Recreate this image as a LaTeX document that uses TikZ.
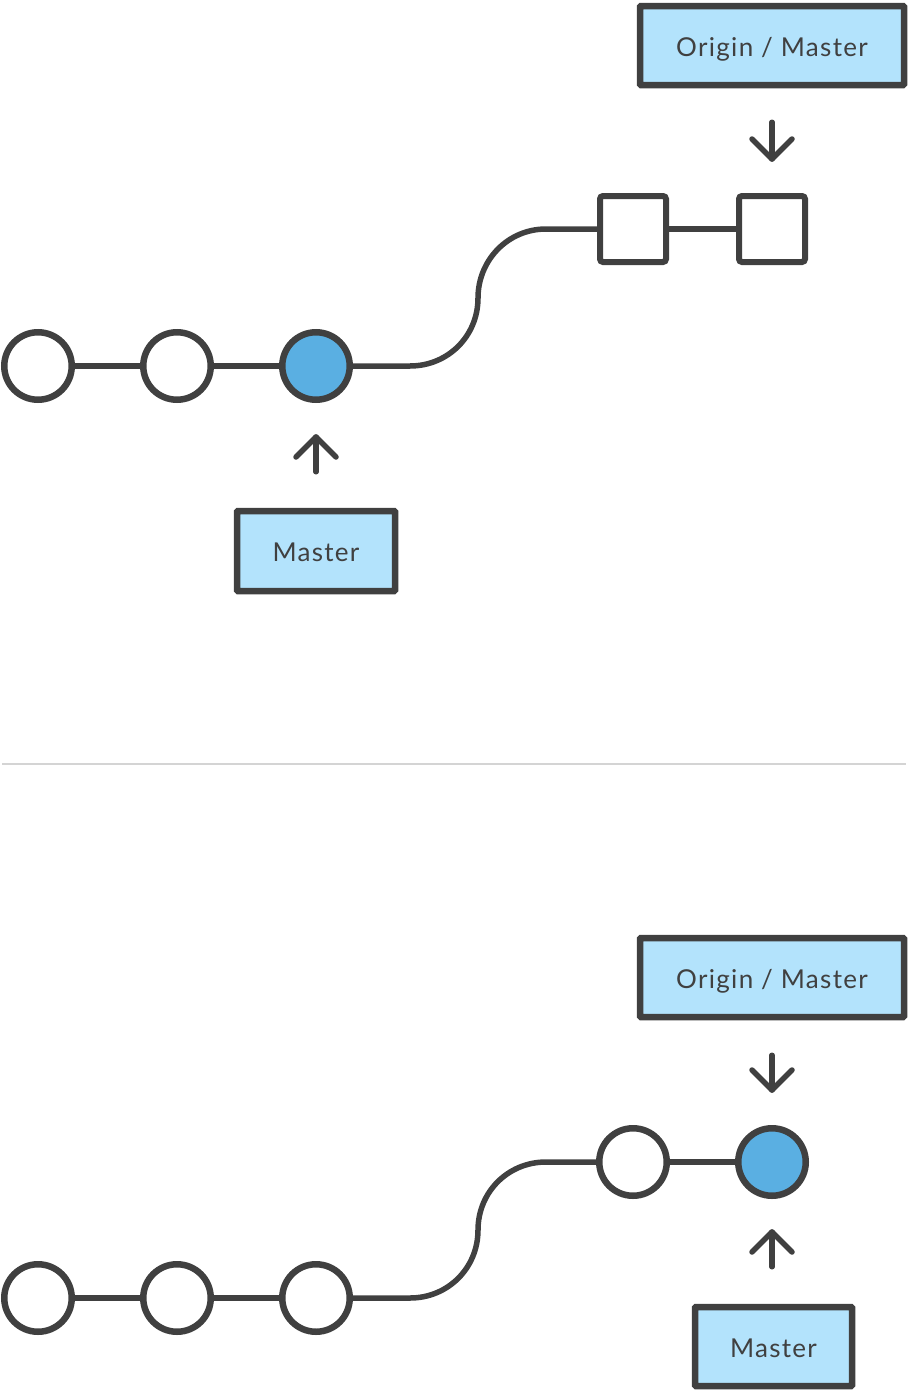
\documentclass[tikz,border=0pt]{standalone}
\usepackage{fontspec}
\setmainfont{Lato}[LetterSpace=5]
\usetikzlibrary{calc}
\definecolor{ink}{HTML}{404040}
\definecolor{boxfill}{HTML}{B3E3FC}
\definecolor{headfill}{HTML}{5AAFE2}
\definecolor{sepgray}{HTML}{D4D4D4}
\tikzset{
  commit/.style={circle,draw=ink,line width=6.5pt,fill=white,minimum size=67.5pt,inner sep=0pt},
  headcommit/.style={commit,fill=headfill},
  sqcommit/.style={rectangle,draw=ink,line width=6pt,fill=white,minimum size=66pt,inner sep=0pt,rounded corners=3pt},
  label/.style={rectangle,draw=ink,line width=6.5pt,fill=boxfill,inner sep=0pt,text=ink,font=\fontsize{26}{30}\selectfont,text height=21pt,text depth=0pt,rounded corners=1pt},
  link/.style={draw=ink,line width=5.5pt},
  pointer/.style={draw=ink,line width=5.5pt,line cap=round,line join=round},
}
\begin{document}
\begin{tikzpicture}[x=1pt,y=-1pt]
\useasboundingbox (0,0) rectangle (909,1392);
% ---------- top diagram ----------
\node[commit] (a1) at (38,366) {};
\node[commit] (a2) at (177,366) {};
\node[headcommit] (a3) at (316,366) {};
\node[sqcommit] (s1) at (633,229) {};
\node[sqcommit] (s2) at (772,229) {};
\node[label,minimum width=264pt,minimum height=79pt] (om1) at (772,45.5) {Origin / Master};
\node[label,minimum width=158pt,minimum height=80pt] (m1) at (316,551) {Master};
\draw[link] (a1) -- (a2);
\draw[link] (a2) -- (a3);
\draw[link] (s1) -- (s2);
\draw[link] (a3.east) -- (410,366) .. controls (448,366) and (478,336) .. (478,298)
  .. controls (478,260) and (508,229) .. (546,229) -- (s1.west);
\coordinate (t1) at ($(om1.south)+(0,34)$);
\coordinate (h1) at ($(s2.north)+(0,-34)$);
\draw[pointer] (t1) -- (h1);
\draw[pointer] ($(h1)+(-20,-20)$) -- (h1) -- ($(h1)+(20,-20)$);
\coordinate (t2) at ($(m1.north)+(0,-36)$);
\coordinate (h2) at ($(a3.south)+(0,34)$);
\draw[pointer] (t2) -- (h2);
\draw[pointer] ($(h2)+(-20,20)$) -- (h2) -- ($(h2)+(20,20)$);
% ---------- separator ----------
\coordinate (sepL) at (2,764);
\coordinate (sepR) at (906,764);
\draw[sepgray,line width=2pt] (sepL) -- (sepR);
% ---------- bottom diagram ----------
\node[commit] (b1) at (38,1298) {};
\node[commit] (b2) at (177,1298) {};
\node[commit] (b3) at (316,1298) {};
\node[commit] (b4) at (633,1162) {};
\node[headcommit] (b5) at (772,1162) {};
\node[label,minimum width=264pt,minimum height=79pt] (om2) at (772,977.5) {Origin / Master};
\node[label,minimum width=157pt,minimum height=79pt] (m2) at (773.5,1346.5) {Master};
\draw[link] (b1) -- (b2);
\draw[link] (b2) -- (b3);
\draw[link] (b4) -- (b5);
\draw[link] (b3.east) -- (410,1298) .. controls (448,1298) and (478,1268) .. (478,1230)
  .. controls (478,1192) and (508,1162) .. (546,1162) -- (b4.west);
\coordinate (t3) at ($(om2.south)+(0,35)$);
\coordinate (h3) at ($(b5.north)+(0,-35)$);
\draw[pointer] (t3) -- (h3);
\draw[pointer] ($(h3)+(-20,-20)$) -- (h3) -- ($(h3)+(20,-20)$);
\coordinate (t4) at ($(m2.north -| b5.south)+(0,-37)$);
\coordinate (h4) at ($(b5.south)+(0,33)$);
\draw[pointer] (t4) -- (h4);
\draw[pointer] ($(h4)+(-20,20)$) -- (h4) -- ($(h4)+(20,20)$);
\end{tikzpicture}
\end{document}
